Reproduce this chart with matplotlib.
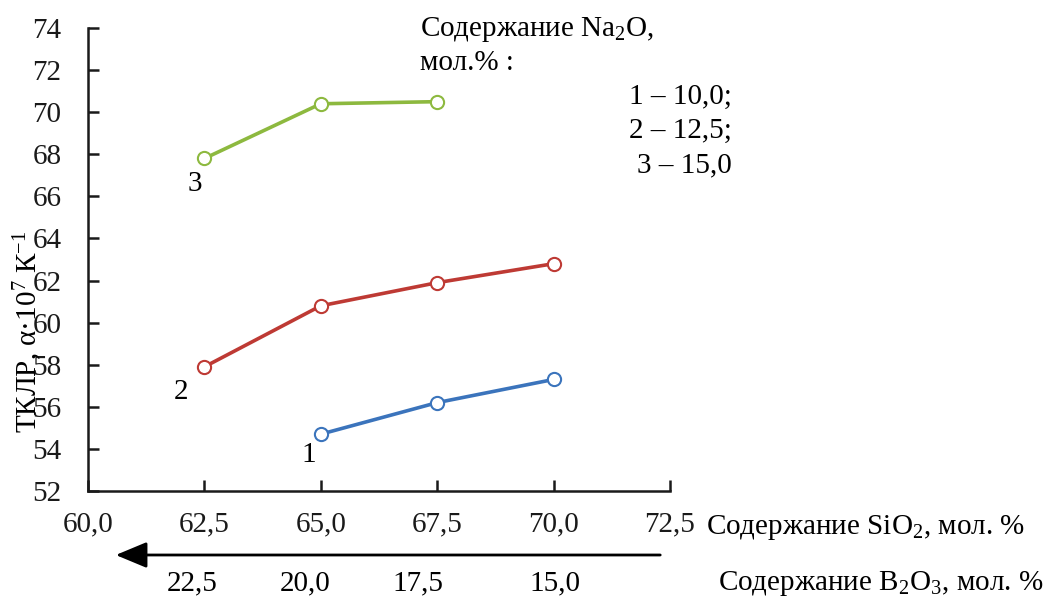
import matplotlib
matplotlib.use("Agg")
import matplotlib.pyplot as plt

# Data
sio2_1 = [65.0, 67.5, 70.0]
tklr_1 = [54.7, 56.2, 57.3]
sio2_2 = [62.5, 65.0, 67.5, 70.0]
tklr_2 = [57.9, 60.8, 61.9, 62.8]
sio2_3 = [62.5, 65.0, 67.5]
tklr_3 = [67.8, 70.4, 70.5]
x_ticks = [60.0, 62.5, 65.0, 67.5, 70.0, 72.5]
y_ticks = list(range(52, 75, 2))
b2o3_labels = ["22,5", "20,0", "17,5", "15,0"]
b2o3_px = [192, 305, 418, 555]
legend_lines = ["1 – 10,0;", "2 – 12,5;", "3 – 15,0"]

plt.rcParams['font.family'] = ['Liberation Serif', 'DejaVu Serif']
plt.rcParams['mathtext.fontset'] = 'custom'
plt.rcParams['mathtext.rm'] = 'Liberation Serif'
plt.rcParams['mathtext.it'] = 'Liberation Serif:italic'

FS = 21
W, H = 1054, 598
fig = plt.figure(figsize=(W/100, H/100), dpi=100)
ax = fig.add_axes([88/W, 1-491/H, (670-88)/W, (491-28)/H])

colors = ['#3B74BC', '#BE3A34', '#8DB93F']
for xs, ys, c in [(sio2_1, tklr_1, colors[0]), (sio2_2, tklr_2, colors[1]), (sio2_3, tklr_3, colors[2])]:
    ax.plot(xs, ys, color=c, lw=2.6, marker='o', ms=9.5, mfc='white', mec=c, mew=1.5, zorder=3)

ax.set_xlim(60, 72.5)
ax.set_ylim(52, 74)
ax.set_xticks(x_ticks)
ax.set_xticklabels([f"{v:.1f}".replace('.', ',') for v in x_ticks])
ax.set_yticks(y_ticks)
for s in ['top', 'right']:
    ax.spines[s].set_visible(False)
for s in ['left', 'bottom']:
    ax.spines[s].set_linewidth(1.8)
    ax.spines[s].set_color('#1a1a1a')
ax.tick_params(axis='both', direction='in', length=8, width=1.8, colors='#1a1a1a', labelsize=FS)
ax.tick_params(axis='y', pad=19)
ax.tick_params(axis='x', pad=15)

# curve labels
ax.text(62.3, 66.6, "3", fontsize=FS, ha='center', va='center')
ax.text(62.0, 56.7, "2", fontsize=FS, ha='center', va='center')
ax.text(64.74, 53.7, "1", fontsize=FS, ha='center', va='center')

# y label
fig.text(28/W, 1-332/H, "ТКЛР, α·10$^{7}$ К$^{-1}$", rotation=90, fontsize=FS,
         ha='center', va='center')

# x axis titles
fig.text(706/W, 1-527/H, "Содержание SiO$_2$, мол. %", fontsize=FS, ha='left', va='center')
fig.text(718/W, 1-583/H, "Содержание B$_2$O$_3$, мол. %", fontsize=FS, ha='left', va='center')

# B2O3 tick labels
for lab, px in zip(b2o3_labels, b2o3_px):
    fig.text(px/W, 1-583/H, lab, fontsize=FS, ha='center', va='center')

# arrow
fig.add_artist(matplotlib.patches.FancyArrowPatch(
    (663/W, 1-555/H), (113/W, 1-555/H), transform=fig.transFigure,
    arrowstyle='-|>,head_length=1.2,head_width=0.5', mutation_scale=16,
    lw=2.0, color='black'))

# legend text
fig.text(420/W, 1-30/H, "Содержание Na$_2$O,", fontsize=FS, ha='left', va='center')
fig.text(420/W, 1-63/H, "мол.% :", fontsize=FS, ha='left', va='center')
for i, t in enumerate(legend_lines):
    fig.text(732/W, 1-(97+34*i)/H, t, fontsize=FS, ha='right', va='center')

fig.savefig("out.png", dpi=100)
